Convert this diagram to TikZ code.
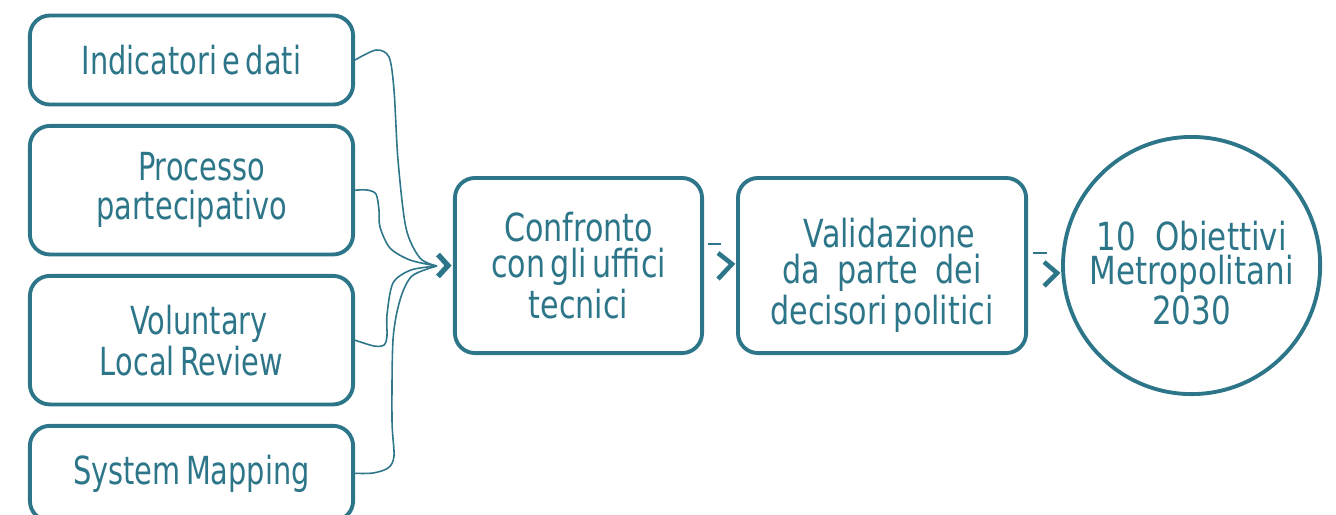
\documentclass[tikz,border=0pt]{standalone}
\usepackage{fontspec}
\usetikzlibrary{positioning, shapes.geometric}
\definecolor{metroteal}{RGB}{45,118,137}
\newfontfamily\srcfont[FakeStretch=0.745,WordSpace=0.6]{DejaVu Sans}
\newfontfamily\labelfont[FakeStretch=0.78,WordSpace=0.6]{DejaVu Sans}
\newfontfamily\goalfont[FakeStretch=0.8]{DejaVu Sans}
\tikzset{
srcbox/.style={draw=metroteal, line width=1.1pt, rounded corners=0.2cm, fill=white, text=metroteal, minimum width=3.23cm, align=center, font=\srcfont\fontsize{11}{10.3}\selectfont}, % boxes on the left
stepbox/.style={srcbox, minimum height=1.75cm, font=\labelfont\fontsize{11}{10.3}\selectfont}, % process steps
goal/.style={circle, draw=metroteal, line width=1.1pt, text=metroteal, minimum size=2.57cm, inner sep=0pt},
steptext/.style={text=metroteal, align=center, font=\labelfont\fontsize{11}{10.3}\selectfont},
goaltext/.style={text=metroteal, align=center, font=\goalfont\fontsize{11}{9.6}\selectfont},
feed/.style={draw=metroteal, line width=0.45pt},
chev/.style={draw=metroteal, line width=1.3pt},
}
\begin{document}
\begin{tikzpicture}[x=0.01cm, y=-0.01cm]
      \useasboundingbox (0,0) rectangle (1336,514);
      % sources
      \node[srcbox, minimum height=0.89cm] (ind) at (191.5,60) {Indicatori e dati};
      \node[srcbox, minimum height=1.285cm, below=0.175cm of ind] (proc) {\hspace*{0.2cm}Processo\\[0.03cm]partecipativo};
      \node[srcbox, minimum height=1.285cm, below=0.175cm of proc] (vlr) {\hspace*{0.15cm}Voluntary\\Local Review};
      \node[srcbox, minimum height=0.95cm, below=0.175cm of vlr] (sysmap) {System Mapping};

      % steps
      \node[stepbox, minimum width=2.47cm] (conf) at (578.5,265.5) {Confronto\\con gli uffici\\tecnici};
      \node[stepbox, minimum width=2.88cm, right=0.32cm of conf,
            label={[steptext, yshift=-0.1cm]center:\hspace*{0.15cm}Validazione\\da\ \ \ parte\ \ \ dei\\decisori politici}] (valid) {};
      \node[goal, right=0.33cm of valid,
            label={[goaltext, yshift=-0.08cm]center:10\ \ Obiettivi\\Metropolitani\\2030}] (obj) {};
      \coordinate (hub) at (437,266);

      \draw[feed] plot[smooth, tension=0.5] coordinates {(ind.east) (376,50) (389,57) (394,90) (398,160) (406,228) (420,258) (hub)};
      \draw[feed] plot[smooth, tension=0.5] coordinates {(proc.east) (367,190) (376,194) (379,210) (380,227) (390,248) (410,260) (hub)};
      \draw[feed] plot[smooth, tension=0.5] coordinates {(vlr.east) (374,346) (384,345) (387,336) (387,315) (393,283) (411,270) (hub)};
      \draw[feed] plot[smooth, tension=0.5] coordinates {(sysmap.east) (373,473) (388,468) (394,456) (392,420) (393,340) (400,300) (412,276) (hub)};
      \draw[chev, line width=1.5pt] ([shift={(-15,-11)}]conf.west) -- ([shift={(-5,0)}]conf.west) -- ([shift={(-15,11)}]conf.west);

      % chevrons between steps
      \draw[metroteal, line width=0.8pt] ([shift={(4,-21.5)}]conf.east) -- ([shift={(17,-21.5)}]conf.east);
      \draw[chev] ([shift={(14,-12.5)}]conf.east) -- ([shift={(28,-1.5)}]conf.east) -- ([shift={(14,13.5)}]conf.east);
      \draw[metroteal, line width=0.8pt] ([shift={(5,-12.5)}]valid.east) -- ([shift={(19,-12.5)}]valid.east);
      \draw[chev] ([shift={(16,-3.5)}]valid.east) -- ([shift={(29,7.5)}]valid.east) -- ([shift={(16,20.5)}]valid.east);
    \end{tikzpicture}
\end{document}
